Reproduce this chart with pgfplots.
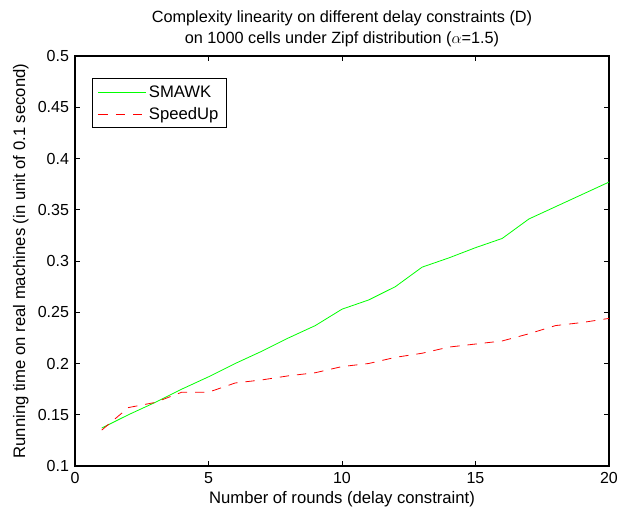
\documentclass[border=0pt]{standalone}
\usepackage{pgfplots}
\pgfplotsset{compat=1.18}
\usepackage{fontspec}
\setmainfont{Liberation Sans}

\definecolor{mgreen}{RGB}{0,255,0}
\definecolor{mred}{RGB}{255,0,0}

\begin{document}
\begin{tikzpicture}
\useasboundingbox (-56.25pt,-33.75pt) rectangle (417.75pt,349.5pt);
\begin{axis}[
  at={(0,0)}, anchor=south west,
  scale only axis,
  width=400.5pt, height=307.5pt,
  xmin=0, xmax=20, ymin=0.1, ymax=0.5,
  xtick={0,5,...,20},
  ytick={0.1,0.15,...,0.5},
  tick align=inside,
  major tick length=4pt,
  axis line style={line width=0.9pt},
  every tick/.style={black, line width=0.6pt},
  font=\fontsize{12}{14}\selectfont,
  /pgf/number format/assume math mode=true,
  yticklabel style={/pgf/number format/fixed, /pgf/number format/precision=2, xshift=-1pt},
  xticklabel style={yshift=-1pt},
  title style={align=center, yshift=-3pt, font=\fontsize{12.2}{16}\selectfont},
  title={Complexity linearity on different delay constraints (D)\\on 1000 cells under Zipf distribution ($\alpha$=1.5)},
  xlabel={Number of rounds (delay constraint)},
  ylabel={Running time on real machines (in unit of 0.1 second)},
  xlabel style={yshift=1pt, font=\fontsize{12.5}{14}\selectfont},
  ylabel style={yshift=0pt, font=\fontsize{12.5}{14}\selectfont},
  legend style={at={(0.032,0.946)}, anchor=north west, draw=black,
    line width=0.9pt, inner xsep=4pt, inner ysep=3pt,
    font=\fontsize{12.5}{14}\selectfont,
    row sep=2pt,
    legend image code/.code={\draw[#1, line width=0.6pt] (0cm,0cm) -- (1.25cm,0cm);}},
  legend cell align=left,
]
\addplot[mgreen, line width=0.6pt] coordinates {
  (1,0.137) (2,0.150) (3,0.162) (4,0.175) (5,0.187) (6,0.200) (7,0.212)
  (8,0.225) (9,0.237) (10,0.253) (11,0.262) (12,0.275) (13,0.294)
  (14,0.303) (15,0.313) (16,0.322) (17,0.341) (18,0.353) (19,0.365) (20,0.377)
};
\addlegendentry{SMAWK}
\addplot[mred, line width=0.6pt, dash pattern=on 7pt off 6pt] coordinates {
  (1,0.135) (2,0.157) (3,0.162) (4,0.172) (5,0.172) (6,0.181) (7,0.184)
  (8,0.188) (9,0.191) (10,0.197) (11,0.200) (12,0.206) (13,0.210)
  (14,0.216) (15,0.219) (16,0.222) (17,0.229) (18,0.237) (19,0.240) (20,0.244)
};
\addlegendentry{SpeedUp}
\end{axis}
\end{tikzpicture}
\end{document}
